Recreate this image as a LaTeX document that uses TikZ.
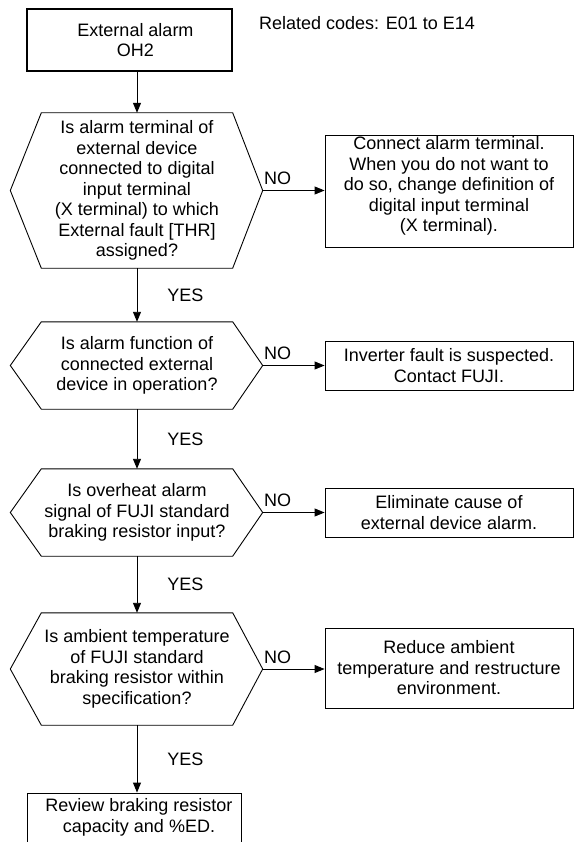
\documentclass[tikz,border=0pt]{standalone}
\usepackage{fontspec}
\setmainfont{Liberation Sans}
\usetikzlibrary{arrows.meta}

% outline of a question node: flat top and bottom, pointed ends
\newcommand{\hexframe}[1]{%
  \coordinate (#1r) at ([xshift=30pt]#1.east);
  \coordinate (#1l) at ([xshift=-31pt]#1.west);
  \draw[line width=0.9pt] (#1.north west) -- (#1.north east) -- (#1r)
    -- (#1.south east) -- (#1.south west) -- (#1l) -- cycle;}

\begin{document}
\begin{tikzpicture}[x=1pt,y=-1pt,>={Triangle[length=10pt,width=8pt]},
    every node/.style={font=\fontsize{18}{20.5}\selectfont},
    actbox/.style={draw,line width=0.9pt,rectangle,inner sep=0pt,align=center},
    askbox/.style={rectangle,inner sep=0pt,minimum width=191pt,align=center},
    flow/.style={line width=0.9pt,->},
    yeslbl/.style={right,inner sep=0pt,xshift=30pt},
    nolbl/.style={pos=0,anchor=south west,inner sep=0pt,xshift=1pt,yshift=5pt}]
    \useasboundingbox (0,0) rectangle (574,842);

    % start and note
    \node [actbox,line width=1.8pt,minimum width=205pt,minimum height=62pt] (alarm) at (129.5,40) {\hspace*{12pt}External alarm\\\hspace*{12pt}OH2};
    \node [anchor=west,inner sep=0pt] (codes) at (259,23) {Related codes: E01 to E14};

    % questions
    \node [askbox,minimum height=155pt] (q1) at (137,190.5) {Is alarm terminal of\\external device\\connected to digital\\input terminal\\(X terminal) to which\\External fault [THR]\\assigned?};
    \hexframe{q1}
    \node [askbox,minimum height=87pt] (q2) at (137,365.5) {Is alarm function of\\connected external\\device in operation?};
    \hexframe{q2}
    \node [askbox,minimum height=87pt] (q3) at (137,512.5) {Is overheat alarm\\signal of FUJI standard\\braking resistor input?};
    \hexframe{q3}
    \node [askbox,minimum height=112pt] (q4) at (137,669) {Is ambient temperature\\of FUJI standard\\braking resistor within\\specification?};
    \hexframe{q4}

    % actions
    \node [actbox,minimum width=248pt,minimum height=112pt] (a1) at (449,191) {\parbox[c][112pt][t]{248pt}{\centering\rule{0pt}{15pt}Connect alarm terminal.\\When you do not want to\\do so, change definition of\\digital input terminal\\(X terminal).}};
    \node [actbox,minimum width=248pt,minimum height=49pt] (a2) at (449,365.5) {Inverter fault is suspected.\\Contact FUJI.};
    \node [actbox,minimum width=248pt,minimum height=49pt] (a3) at (449,512.5) {Eliminate cause of\\external device alarm.};
    \node [actbox,minimum width=248pt,minimum height=80pt] (a4) at (449,668) {Reduce ambient\\temperature and restructure\\environment.};
    \node [actbox,minimum width=214pt,minimum height=49pt] (fix) at (134,817.5) {\hspace*{10pt}Review braking resistor\\\hspace*{10pt}capacity and \%ED.};

    % connectors
    \draw [flow] (alarm.south -| q1.north) -- (q1.north);
    \draw [flow] (q1.south) -- node [yeslbl] (y1) {YES} (q2.north);
    \draw [flow] (q2.south) -- node [yeslbl] (y2) {YES} (q3.north);
    \draw [flow] (q3.south) -- node [yeslbl] (y3) {YES} (q4.north);
    \draw [flow] (q4.south) -- node [yeslbl] (y4) {YES} (q4.south |- fix.north);
    \draw [flow] (q1r) -- node [nolbl] (n1) {NO} (a1.west |- q1r);
    \draw [flow] (q2r) -- node [nolbl] (n2) {NO} (a2.west |- q2r);
    \draw [flow] (q3r) -- node [nolbl] (n3) {NO} (a3.west |- q3r);
    \draw [flow] (q4r) -- node [nolbl] (n4) {NO} (a4.west |- q4r);
\end{tikzpicture}
\end{document}
